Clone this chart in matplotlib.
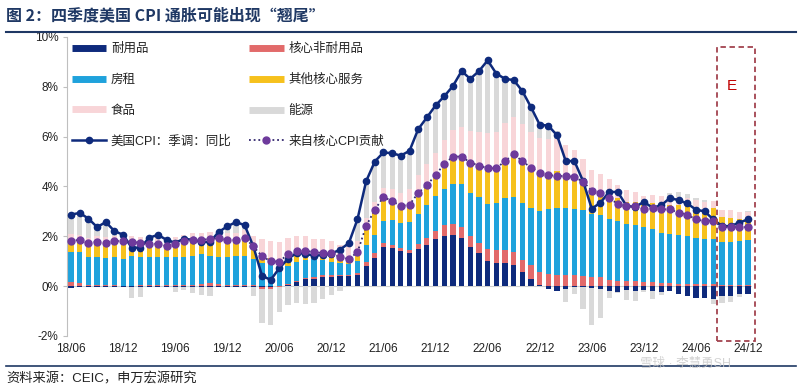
import numpy as np
import matplotlib.pyplot as plt
from matplotlib.lines import Line2D
from matplotlib.patches import Rectangle

plt.rcParams['font.family'] = ['Liberation Sans', 'Noto Sans CJK SC']

# monthly data, 2018/06 .. 2024/12 (last 4 months are estimates, box "E")
tick_labels = ['18/06', '18/12', '19/06', '19/12', '20/06', '20/12', '21/06',
               '21/12', '22/06', '22/12', '23/06', '23/12', '24/06', '24/12']

durables = [-0.08, -0.03, -0.02, -0.04, -0.02, -0.02, -0.02, -0.02, -0.02, -0.03, -0.02,
            -0.02, -0.03, -0.02, -0.02, -0.03, -0.04, -0.02, -0.02, -0.05, -0.04,
            -0.03, -0.05, -0.05, 0.0, 0.05, 0.17, 0.28, 0.3, 0.38, 0.38, 0.4, 0.4, 0.43, 0.8,
            1.13, 1.59, 1.54, 1.43, 1.32, 1.5, 1.67, 1.88, 2.03, 2.07, 1.92, 1.59, 1.32,
            1.0, 0.94, 0.94, 0.84, 0.57, 0.3, 0.05,
            -0.1, -0.19, -0.1, -0.03, -0.02, -0.06, -0.12, -0.19, -0.23, -0.17, -0.19, -0.15,
            -0.19, -0.23, -0.19, -0.32, -0.39, -0.46, -0.46, -0.5, -0.4, -0.38, -0.32, -0.32]
nondurables = [0.15, 0.12, 0.05, 0.04, 0.04, 0.03, 0.02, 0.02, 0.03, 0.05, 0.06,
               0.05, 0.06, 0.05, 0.06, 0.1, 0.12, 0.08, 0.05, 0.05, 0.06,
               0.05, -0.05, -0.06, -0.03, 0.03, 0.04, 0.05, 0.05, 0.05, 0.05, 0.05, 0.06, 0.08, 0.15,
               0.2, 0.13, 0.13, 0.1, 0.13, 0.2, 0.27, 0.35, 0.41, 0.43, 0.45, 0.44, 0.42,
               0.5, 0.51, 0.51, 0.52, 0.49, 0.55, 0.5,
               0.5, 0.45, 0.45, 0.45, 0.42, 0.35, 0.35, 0.26, 0.22, 0.2, 0.2, 0.18,
               0.18, 0.12, 0.12, 0.1, 0.1, 0.08, 0.08, 0.08, 0.06, 0.06, 0.06, 0.06]
rent = [1.21, 1.24, 1.11, 1.12, 1.09, 1.13, 1.08, 1.18, 1.15, 1.13, 1.11,
        1.11, 1.12, 1.13, 1.17, 1.21, 1.11, 1.08, 1.13, 1.15, 1.16,
        1.04, 0.93, 0.89, 0.93, 0.74, 0.77, 0.73, 0.74, 0.63, 0.53, 0.48, 0.43, 0.51, 0.71,
        0.74, 0.88, 0.97, 1.01, 1.12, 1.21, 1.31, 1.38, 1.44, 1.59, 1.72, 1.69, 1.82,
        1.81, 1.89, 2.07, 2.2, 2.29, 2.3, 2.47,
        2.61, 2.69, 2.69, 2.65, 2.62, 2.56, 2.52, 2.42, 2.38, 2.3, 2.24, 2.19,
        2.12, 2.01, 1.98, 1.96, 1.9, 1.85, 1.82, 1.82, 1.7, 1.7, 1.77, 1.8]
other_services = [0.55, 0.52, 0.59, 0.66, 0.64, 0.66, 0.75, 0.59, 0.58, 0.55, 0.56,
                  0.47, 0.54, 0.64, 0.64, 0.57, 0.7, 0.79, 0.69, 0.7, 0.77,
                  0.54, 0.37, 0.22, 0.08, 0.47, 0.42, 0.36, 0.27, 0.27, 0.37, 0.23, 0.2, 0.34, 0.75,
                  1.0, 0.98, 0.77, 0.69, 0.7, 0.83, 0.8, 0.85, 1.02, 1.11, 1.11, 1.24, 1.28,
                  1.42, 1.39, 1.5, 1.73, 1.67, 1.6, 1.53,
                  1.45, 1.47, 1.38, 1.31, 1.17, 0.98, 0.99, 1.03, 0.94, 0.89, 0.95, 0.89,
                  1.02, 1.18, 1.17, 1.21, 1.26, 1.21, 1.17, 1.23, 1.01, 0.99, 0.86, 0.83]
food = [0.19, 0.19, 0.19, 0.2, 0.2, 0.2, 0.22, 0.22, 0.22, 0.24, 0.25,
        0.25, 0.25, 0.25, 0.25, 0.24, 0.24, 0.25, 0.25, 0.25, 0.25,
        0.4, 0.6, 0.7, 0.75, 0.64, 0.63, 0.6, 0.55, 0.58, 0.5, 0.5, 0.47, 0.45, 0.34,
        0.31, 0.34, 0.48, 0.52, 0.64, 0.74, 0.85, 0.88, 0.95, 1.07, 1.19, 1.27, 1.36,
        1.4, 1.47, 1.54, 1.51, 1.47, 1.43, 1.4,
        1.36, 1.28, 1.15, 1.04, 0.9, 0.77, 0.66, 0.58, 0.5, 0.45, 0.39, 0.36,
        0.35, 0.3, 0.3, 0.3, 0.28, 0.3, 0.3, 0.28, 0.3, 0.3, 0.3, 0.3]
energy = [0.85, 0.9, 0.8, 0.38, 0.63, 0.21, 0.01, -0.45, -0.41, 0.0, 0.11,
          0.01, -0.21, -0.15, -0.24, -0.32, -0.37, 0.0, 0.3, 0.47, 0.21,
          -0.35, -1.38, -1.45, -1.0, -0.77, -0.66, -0.7, -0.66, -0.5, -0.35, -0.2, 0.16, 0.87, 1.46,
          1.62, 1.45, 1.44, 1.5, 1.52, 1.82, 1.87, 1.91, 1.77, 1.76, 2.24, 2.09, 2.43,
          2.93, 2.33, 1.76, 1.47, 1.34, 1.0, 0.53,
          0.62, 0.35, -0.55, -0.3, -0.9, -1.5, -1.15, -0.3, -0.03, -0.4, -0.4, -0.09,
          -0.33, -0.14, 0.16, 0.2, 0.17, 0.09, 0.09, -0.23, -0.26, -0.26, -0.12, 0.01]
cpi = [2.87, 2.94, 2.71, 2.37, 2.57, 2.21, 2.06, 1.54, 1.55, 1.94, 2.06,
       1.86, 1.74, 1.9, 1.86, 1.77, 1.77, 2.17, 2.4, 2.57, 2.45,
       1.6, 0.42, 0.25, 0.72, 1.1, 1.33, 1.3, 1.22, 1.25, 1.3, 1.47, 1.72, 2.68, 4.21,
       5.0, 5.37, 5.33, 5.24, 5.43, 6.3, 6.77, 7.25, 7.62, 8.03, 8.63, 8.32, 8.63,
       9.06, 8.53, 8.32, 8.27, 7.83, 7.18, 6.48,
       6.44, 6.05, 5.02, 5.02, 4.21, 3.11, 3.35, 3.78, 3.78, 3.22, 3.18, 3.38,
       3.15, 3.24, 3.54, 3.45, 3.32, 3.07, 3.0, 2.68, 2.41, 2.41, 2.55, 2.68]
core = [1.83, 1.85, 1.72, 1.79, 1.74, 1.8, 1.83, 1.77, 1.74, 1.7, 1.7,
        1.6, 1.7, 1.8, 1.85, 1.85, 1.9, 1.92, 1.85, 1.85, 1.94,
        1.6, 1.2, 1.0, 0.98, 1.29, 1.4, 1.42, 1.36, 1.33, 1.33, 1.16, 1.09, 1.36, 2.41,
        3.07, 3.58, 3.41, 3.22, 3.27, 3.74, 4.05, 4.46, 4.9, 5.2, 5.2, 4.96, 4.84,
        4.73, 4.73, 5.02, 5.29, 5.02, 4.75, 4.55,
        4.46, 4.42, 4.42, 4.38, 4.19, 3.83, 3.74, 3.52, 3.31, 3.22, 3.2, 3.11,
        3.13, 3.08, 3.08, 2.95, 2.87, 2.68, 2.61, 2.63, 2.37, 2.37, 2.37, 2.37]

navy = '#0E2A7C'
purple = '#6E3A9C'
bar_series = [
    ('耐用品', durables, navy),
    ('核心非耐用品', nondurables, '#E26A6A'),
    ('房租', rent, '#1FA2DC'),
    ('其他核心服务', other_services, '#F6C11D'),
    ('食品', food, '#F8D5D8'),
    ('能源', energy, '#D9D9D9'),
]

fig = plt.figure(figsize=(8, 3.9), dpi=100)
ax = fig.add_axes([0.0834, 0.1385, 0.857, 0.7667])

n = len(cpi)
x = np.arange(n)
pos = np.zeros(n)
neg = np.zeros(n)
for name, vals, color in bar_series:
    v = np.array(vals)
    bottom = np.where(v >= 0, pos, neg)
    ax.bar(x, v, 0.6, bottom=bottom, color=color, linewidth=0, zorder=2)
    pos += np.clip(v, 0, None)
    neg += np.clip(v, None, 0)

ax.axhline(0, color='#D0D0D0', lw=0.8, zorder=1)

ax.plot(x, cpi, color=navy, lw=1.8, marker='o', ms=4.5, zorder=4)
ax.plot(x, core, color='#33286E', lw=1.3, ls=(0, (1, 1.6)), marker='o', ms=5,
        mfc=purple, mec=purple, zorder=5)

ax.set_xlim(-0.5, n - 0.5)
ax.set_ylim(-2, 10)
ax.set_yticks(range(-2, 11, 2))
ax.set_yticklabels([f'{v}%' for v in range(-2, 11, 2)])
ax.set_xticks(range(0, n, 6))
ax.set_xticklabels(tick_labels)
for s in ['top', 'right', 'bottom']:
    ax.spines[s].set_visible(False)
ax.spines['left'].set_color('#BFBFBF')
ax.tick_params(axis='y', length=3, color='#BFBFBF', labelsize=8.5, labelcolor='#222222', pad=3)
ax.tick_params(axis='x', length=0, labelsize=8.5, labelcolor='#222222', pad=5)

# estimate box
ax.add_patch(Rectangle((74.42, -2.22), 4.38, 11.82, fill=False, edgecolor='#A3434F',
                       lw=1.3, ls=(0, (3, 2)), clip_on=False, zorder=6))
ax.text(76.1, 8.03, 'E', color='#C00000', fontsize=11, ha='center', va='center')

handles = [
    Line2D([], [], color=navy, lw=5, solid_capstyle='butt'),
    Line2D([], [], color='#1FA2DC', lw=5, solid_capstyle='butt'),
    Line2D([], [], color='#F8D5D8', lw=5, solid_capstyle='butt'),
    Line2D([], [], color=navy, lw=1.8, marker='o', ms=4.5),
    Line2D([], [], color='#E26A6A', lw=5, solid_capstyle='butt'),
    Line2D([], [], color='#F6C11D', lw=5, solid_capstyle='butt'),
    Line2D([], [], color='#D9D9D9', lw=5, solid_capstyle='butt'),
    Line2D([], [], color='#33286E', lw=1.3, ls=(0, (1, 1.6)), marker='o', ms=5,
           mfc=purple, mec=purple),
]
labels = ['耐用品', '房租', '食品', '美国CPI：季调：同比',
          '核心非耐用品', '其他核心服务', '能源', '来自核心CPI贡献']
ax.legend(handles, labels, ncol=2, loc='upper left', bbox_to_anchor=(0.007, 0.98),
          frameon=False, fontsize=9, handlelength=2.75, handletextpad=0.4,
          columnspacing=1.4, labelspacing=1.5, borderpad=0, borderaxespad=0,
          labelcolor='#222222')

fig.text(0.008, 0.9615, '图 2：四季度美国 CPI 通胀可能出现“翘尾”', fontsize=11.5,
         fontweight='bold', color='#1F3864', va='center',
         family=['Noto Sans CJK SC', 'DejaVu Sans'])
fig.add_artist(Line2D([0.008, 0.995], [0.918, 0.918], color='#1F3864', lw=1.5))
fig.add_artist(Line2D([0.008, 0.995], [0.0615, 0.0615], color='#1F3864', lw=1.2))
fig.text(0.008, 0.028, '资料来源：CEIC，申万宏源研究', fontsize=9.5, color='#222222', va='center')
fig.text(0.80, 0.068, '雪球 · 李慧勇SH', fontsize=9, color='#C8C8C8', va='center', alpha=0.8)

fig.savefig('out.png', dpi=100)
